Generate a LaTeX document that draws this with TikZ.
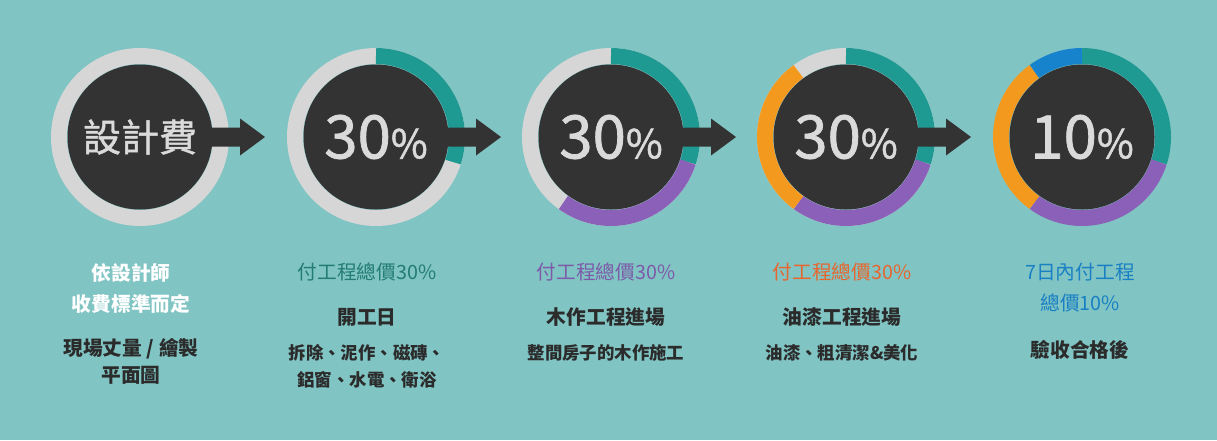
\documentclass[tikz,border=0pt]{standalone}
\usepackage{fontspec}
\setmainfont{Noto Sans CJK TC}
\newfontfamily\discfont[FakeBold=1.2]{Noto Sans CJK TC}
\definecolor{bgc}{HTML}{80C4C3}
\definecolor{darkc}{HTML}{333333}
\definecolor{ringgray}{HTML}{D6D6D6}
\definecolor{tealc}{HTML}{1E9A93}
\definecolor{purplec}{HTML}{8B60B8}
\definecolor{orangec}{HTML}{F39A1E}
\definecolor{bluec}{HTML}{1683CC}
\definecolor{tealtxt}{HTML}{237C76}
\definecolor{purpletxt}{HTML}{7D5BA9}
\definecolor{orangetxt}{HTML}{E8662E}
\definecolor{bluetxt}{HTML}{1A80C4}
\definecolor{txtdark}{HTML}{2B2B2B}
\definecolor{numc}{HTML}{DADADA}
\begin{document}
\begin{tikzpicture}[x=1pt,y=1pt,
  disc/.style={circle, fill=darkc, minimum size=145pt, inner sep=0pt, text=numc},
  ringseg/.style={line width=16pt},
  lbl/.style={text=numc, inner sep=0pt},
  head/.style={font=\fontsize{19.7}{31}\selectfont, align=center, inner sep=0pt},
  bhead/.style={font=\bfseries\fontsize{19.7}{27}\selectfont, align=center, inner sep=0pt, text=txtdark},
  desc/.style={font=\bfseries\fontsize{17.4}{27}\selectfont, align=center, inner sep=0pt, text=txtdark}
]
\useasboundingbox (0,0) rectangle (1217,-440);
\fill[bgc] (0,0) rectangle (1217,-440);

\newcommand{\pct}[1]{{\discfont\fontsize{60}{60}\selectfont #1}{\discfont\fontsize{40}{40}\selectfont\%}}

% circle 1
\draw[ringseg, ringgray] (140,-137) circle[radius=81];
% circle 2
\draw[ringseg, ringgray] (376,-137) circle[radius=81];
\draw[ringseg, tealc] (376,-137) ++(90:81) arc[start angle=90, end angle=-18, radius=81];
% circle 3
\draw[ringseg, ringgray] (611,-137) circle[radius=81];
\draw[ringseg, tealc] (611,-137) ++(90:81) arc[start angle=90, end angle=-18, radius=81];
\draw[ringseg, purplec] (611,-137) ++(-18:81) arc[start angle=-18, end angle=-126, radius=81];
% circle 4
\draw[ringseg, ringgray] (846,-137) circle[radius=81];
\draw[ringseg, tealc] (846,-137) ++(90:81) arc[start angle=90, end angle=-18, radius=81];
\draw[ringseg, purplec] (846,-137) ++(-18:81) arc[start angle=-18, end angle=-126, radius=81];
\draw[ringseg, orangec] (846,-137) ++(-126:81) arc[start angle=-126, end angle=-234, radius=81];
% circle 5
\draw[ringseg, tealc] (1082,-137) ++(90:81) arc[start angle=90, end angle=-18, radius=81];
\draw[ringseg, purplec] (1082,-137) ++(-18:81) arc[start angle=-18, end angle=-126, radius=81];
\draw[ringseg, orangec] (1082,-137) ++(-126:81) arc[start angle=-126, end angle=-234, radius=81];
\draw[ringseg, bluec] (1082,-137) ++(-234:81) arc[start angle=-234, end angle=-270, radius=81];

% discs
\node[disc] (c1) at (140,-137) {};
\node[disc] (c2) at (376,-137) {};
\node[disc] (c3) at (611,-137) {};
\node[disc] (c4) at (846,-137) {};
\node[disc] (c5) at (1082,-137) {};

% arrows
\foreach \n in {c1,c2,c3,c4}{
  \fill[darkc] ([xshift=55pt,yshift=9.5pt]\n.center) -- ++(45,0) -- ++(0,9) -- ++(25,-18.5) -- ++(-25,-18.5) -- ++(0,9) -- ++(-45,0) -- cycle;
}

% labels in discs
\node[lbl, font=\discfont\fontsize{38}{40}\selectfont] (l1) at (c1.center) {設計費};
\node[lbl] (l2) at (c2.center) {\pct{30}};
\node[lbl] (l3) at (c3.center) {\pct{30}};
\node[lbl] (l4) at (c4.center) {\pct{30}};
\node[lbl] (l5) at (c5.center) {\pct{10}};

% column 1
\node[head, font=\bfseries\fontsize{19.7}{31}\selectfont, text=white] (t1a) at (131,-288.5) {依設計師\\收費標準而定};
\node[bhead] (t1b) at (131,-361.5) {現場丈量 / 繪製\\平面圖};
% column 2
\node[head, text=tealtxt] (t2a) at (367,-272) {付工程總價30\%};
\node[bhead] (t2b) at (367,-317) {開工日};
\node[desc] (t2c) at (367,-366.5) {拆除、泥作、磁磚、\\鋁窗、水電、衛浴};
% column 3
\node[head, text=purpletxt] (t3a) at (606,-272) {付工程總價30\%};
\node[bhead] (t3b) at (606,-317) {木作工程進場};
\node[desc] (t3c) at (606,-353) {整間房子的木作施工};
% column 4
\node[head, text=orangetxt] (t4a) at (842,-272) {付工程總價30\%};
\node[bhead] (t4b) at (842,-317) {油漆工程進場};
\node[desc] (t4c) at (842,-353) {油漆、粗清潔\&美化};
% column 5
\node[head, text=bluetxt] (t5a) at (1080,-287.5) {7日內付工程\\總價10\%};
\node[bhead] (t5b) at (1080,-350) {驗收合格後};
\end{tikzpicture}
\end{document}
